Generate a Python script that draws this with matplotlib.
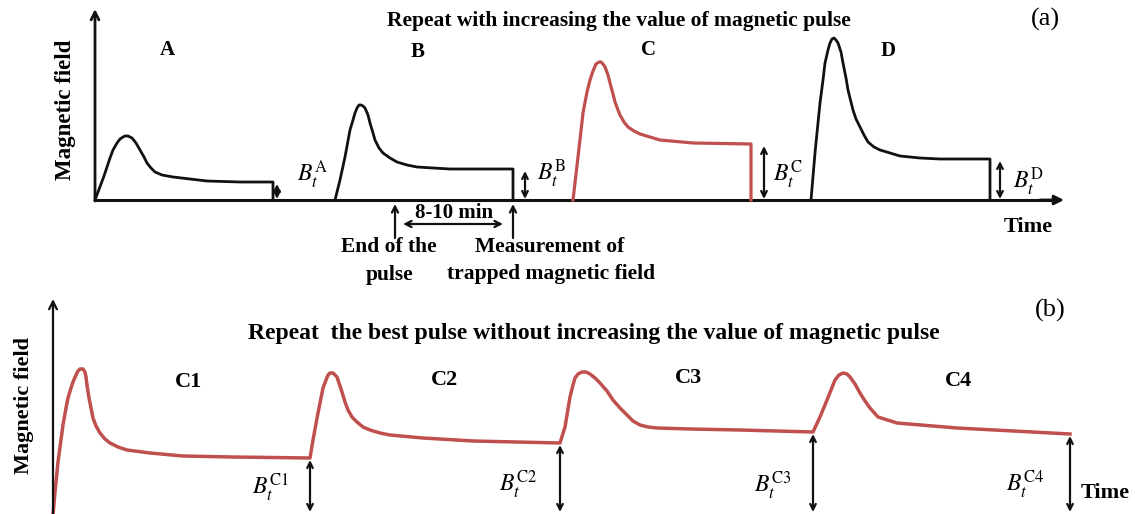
import matplotlib
matplotlib.use("Agg")
import matplotlib.pyplot as plt

plt.rcParams['font.family'] = ['Liberation Serif', 'DejaVu Serif']
plt.rcParams['mathtext.fontset'] = 'stix'

BLACK = '#111111'
RED = '#C0504D'

# panel (a): four pulses of increasing amplitude (image pixel coords)
pulse_a_x = [95, 98, 101, 104, 107, 110, 113, 117, 120, 123, 125, 128, 132, 136, 140, 144, 147,
             151, 155, 162, 173, 207, 240, 273, 273]
pulse_a_y = [200, 192, 184, 176, 167, 158, 150, 143, 139, 137, 136, 136, 138, 143, 150, 157, 163,
             168, 172, 175, 177, 181, 182, 182, 200]
pulse_b_x = [335, 340, 345, 350, 353, 355, 357, 359, 361, 363, 365, 368, 370, 373, 375, 379, 383,
             390, 397, 407, 417, 450, 513, 513]
pulse_b_y = [200, 180, 157, 130, 120, 113, 108, 105, 105, 106, 108, 115, 123, 133, 140, 148, 153,
             158, 162, 165, 167, 169, 169, 200]
pulse_c_x = [573, 578, 583, 587, 590, 593, 596, 599, 601, 603, 605, 608, 610, 613, 615, 618, 620,
             624, 628, 634, 640, 650, 660, 693, 751, 751]
pulse_c_y = [200, 157, 113, 92, 80, 71, 64, 62, 62, 64, 67, 75, 83, 94, 102, 110, 115,
             122, 127, 131, 134, 137, 140, 143, 144, 200]
pulse_d_x = [811, 815, 820, 823, 825, 828, 830, 832, 834, 836, 838, 841, 843, 846, 848, 851, 853,
             856, 860, 864, 868, 874, 880, 890, 900, 920, 940, 990, 990]
pulse_d_y = [200, 153, 103, 80, 63, 50, 43, 39, 38, 40, 43, 52, 63, 78, 90, 102, 110,
             119, 127, 135, 142, 147, 150, 153, 156, 158, 159, 159, 200]
pulse_labels = ['A', 'B', 'C', 'D']
pulse_label_x = [167, 418, 649, 888]
pulse_label_y = [50, 52, 50, 51]
trap_x = [277, 525, 764, 1000]
trap_top = [184, 171, 146, 161]
trap_label_x = [297, 537, 773, 1013]
trap_label_y = [175, 174, 175, 182]

# panel (b): repeated best pulse C1..C4
rep_x = [53, 55, 58, 60, 63, 66, 68, 71, 73, 76, 78, 80, 83, 85, 86, 87, 89, 91, 93, 96, 100,
         105, 110, 118, 127, 150, 183, 233, 310,
         313, 318, 320, 323, 326, 328, 330, 333, 335, 337, 339, 342, 345, 348, 352, 357, 363,
         370, 380, 390, 423, 473, 560,
         565, 570, 573, 575, 578, 582, 586, 590, 595, 600, 607, 613, 620, 627, 633, 640, 648,
         657, 690, 740, 813,
         820, 827, 835, 839, 843, 847, 850, 855, 860, 865, 870, 878, 897, 957, 1070]
rep_y = [515, 492, 462, 447, 425, 408, 398, 388, 382, 375, 371, 369, 369, 372, 377, 385, 398,
         408, 418, 426, 433, 439, 443, 447, 450, 453, 456, 457, 458,
         440, 413, 403, 388, 380, 375, 373, 373, 375, 377, 383, 392, 402, 410, 417, 422, 427,
         430, 433, 435, 438, 441, 443,
         427, 397, 385, 378, 374, 372, 372, 374, 378, 383, 391, 400, 408, 415, 421, 425, 427,
         428, 429, 430, 432,
         417, 400, 380, 375, 373, 374, 377, 384, 393, 401, 408, 417, 423, 428, 434]
rep_labels = ['C1', 'C2', 'C3', 'C4']
rep_label_x = [189, 444, 689, 958]
rep_label_y = [382, 380, 378, 381]
rep_trap_x = [310, 560, 813, 1070]
rep_trap_top = [460, 445, 434, 436]
rep_trap_label_x = [270, 518, 773, 1025]
rep_trap_label_y = [488, 485, 486, 485]

fig = plt.figure(figsize=(11.35, 5.14), dpi=100)
ax = fig.add_axes([0, 0, 1, 1])
ax.set_xlim(0, 1135)
ax.set_ylim(514, 0)
ax.axis('off')


def arrow(x0, y0, x1, y1, style='->', lw=1.6, scale=12):
    ax.annotate('', xy=(x1, y1), xytext=(x0, y0),
                arrowprops=dict(arrowstyle=style, lw=lw, color=BLACK,
                                mutation_scale=scale, shrinkA=0, shrinkB=0))


# ---- panel (a)
ax.plot([95, 1058], [200, 200], color=BLACK, lw=2.2)
arrow(1040, 200, 1064, 200, '-|>', lw=2, scale=14)
arrow(95, 201, 95, 9, '->', lw=2, scale=14)

ax.plot(pulse_a_x, pulse_a_y, color=BLACK, lw=2, solid_joinstyle='round')
ax.plot(pulse_b_x, pulse_b_y, color=BLACK, lw=2, solid_joinstyle='round')
ax.plot(pulse_c_x, pulse_c_y, color=RED, lw=2.3, solid_joinstyle='round')
ax.plot(pulse_d_x, pulse_d_y, color=BLACK, lw=2, solid_joinstyle='round')

for lab, x, y in zip(pulse_labels, pulse_label_x, pulse_label_y):
    ax.text(x, y, lab, ha='center', va='center', fontsize=15, fontweight='bold')
for lab, x, y0, lx, ly in zip(pulse_labels, trap_x, trap_top, trap_label_x, trap_label_y):
    arrow(x, 199, x, y0, '<->', lw=1.6, scale=10)
    ax.text(lx, ly, r'$B_t^{\mathrm{%s}}$' % lab, ha='left', va='center', fontsize=17)

ax.text(619, 21, 'Repeat with increasing the value of magnetic pulse',
        ha='center', va='center', fontsize=15.5, fontweight='bold')
ax.text(1045, 19, '(a)', ha='center', va='center', fontsize=19)
ax.text(65, 110, 'Magnetic field', ha='center', va='center', rotation=90,
        fontsize=16.5, fontweight='bold')
ax.text(1028, 227, 'Time', ha='center', va='center', fontsize=16, fontweight='bold')

arrow(395, 238, 395, 204, '->', lw=1.6, scale=11)
arrow(513, 238, 513, 204, '->', lw=1.6, scale=11)
arrow(403, 224, 503, 224, '<->', lw=1.6, scale=11)
ax.text(454, 213, '8-10 min', ha='center', va='center', fontsize=15, fontweight='bold')
ax.text(389, 247, 'End of the', ha='center', va='center', fontsize=15.5, fontweight='bold')
ax.text(390, 275, 'pulse', ha='center', va='center', fontsize=15.5, fontweight='bold')
ax.text(550, 247, 'Measurement of', ha='center', va='center', fontsize=15.5, fontweight='bold')
ax.text(551, 274, 'trapped magnetic field', ha='center', va='center', fontsize=15.5,
        fontweight='bold')

# ---- panel (b)
arrow(53, 520, 53, 299, '->', lw=1.6, scale=14)
ax.plot([53, 1126], [517, 517], color=BLACK, lw=2)
arrow(1110, 517, 1131, 517, '->', lw=1.6, scale=16)
ax.plot(rep_x, rep_y, color=RED, lw=2.5, solid_joinstyle='round')

for lab, x, y in zip(rep_labels, rep_label_x, rep_label_y):
    ax.text(x, y, lab, ha='center', va='center', fontsize=16, fontweight='bold')
for lab, x, y0, lx, ly in zip(rep_labels, rep_trap_x, rep_trap_top,
                              rep_trap_label_x, rep_trap_label_y):
    arrow(x, 512, x, y0, '<->', lw=1.6, scale=10)
    ax.text(lx, ly, r'$B_t^{\mathrm{%s}}$' % lab, ha='center', va='center', fontsize=17)

ax.text(594, 333, 'Repeat  the best pulse without increasing the value of magnetic pulse',
        ha='center', va='center', fontsize=17, fontweight='bold')
ax.text(1050, 310, '(b)', ha='center', va='center', fontsize=19)
ax.text(24, 406, 'Magnetic field', ha='center', va='center', rotation=90,
        fontsize=16, fontweight='bold')
ax.text(1105, 493, 'Time', ha='center', va='center', fontsize=16, fontweight='bold')

fig.savefig('out.png', dpi=100)
